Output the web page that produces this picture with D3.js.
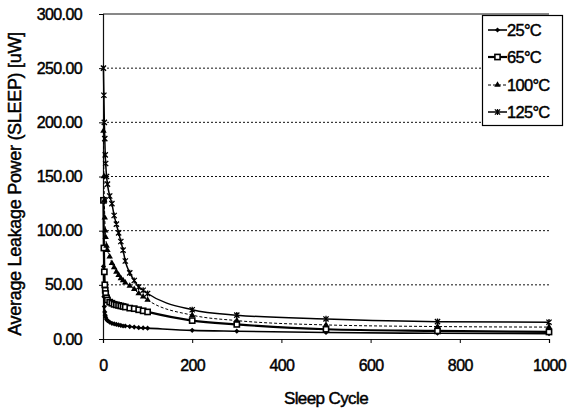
<!DOCTYPE html>
<html>
<head>
<meta charset="utf-8">
<script src="https://cdn.jsdelivr.net/npm/d3@7"></script>
<style>
  html, body { margin: 0; padding: 0; background: #fff; }
  svg { display: block; font-family: "Liberation Sans", Arial, sans-serif; }
  .heavy { stroke: #000; stroke-width: 0.45px; paint-order: stroke; }
</style>
</head>
<body>
<svg id="chart" width="567" height="410"></svg>
<script>
// ---- data ----
const cycles = [1, 2, 3, 4, 5, 6, 8, 10, 15, 20, 25, 30, 35, 40, 45, 50, 60, 70, 80, 90, 100, 200, 300, 500, 750, 1000];
const t25  = [67, 39, 30, 25, 22, 20, 18, 17, 15.5, 14.5, 14, 13.5, 13, 12.5, 12, 12, 11.5, 11, 10.5, 10.2, 10, 8, 7.2, 6, 5.3, 5];
const t65  = [128, 84, 62, 50, 45, 42, 38, 36, 34, 33, 32, 31.5, 31, 30.5, 30, 29.5, 28.5, 28, 27, 26, 25, 17, 13.5, 9, 7.5, 6.5];
const t100 = [192, 150, 128, 112, 100, 94, 86, 82, 76, 70, 66, 62, 59, 56, 54, 52, 49, 46, 42, 39, 36, 22, 17, 13, 11.5, 11];
const t125 = [250, 225, 200, 185, 170, 162, 150, 143, 132, 125, 114, 106, 98, 90, 82, 72, 61, 54, 48, 45, 42, 27, 22, 18.5, 16, 15.5];
const seriesNames = ["25°C", "65°C", "100°C", "125°C"];
const xTicks = [0, 200, 400, 600, 800, 1000];
const yTicks = [0, 50, 100, 150, 200, 250, 300];

const seriesData = [t25, t65, t100, t125];
const styles = [
  { width: 1.6, dash: null, marker: "diamond" },
  { width: 2.2, dash: null, marker: "square" },
  { width: 1.0, dash: "3,2", marker: "star" },
  { width: 1.5, dash: null, marker: "cross" }
];

const svg = d3.select("#chart");
const x = d3.scaleLinear().domain([0, 1000]).range([103, 549]);
const y = d3.scaleLinear().domain([0, 300]).range([339, 14]);

// gridlines
svg.append("g").selectAll("line").data(yTicks.filter(d => d > 0)).join("line")
  .attr("x1", x(0)).attr("x2", x(1000))
  .attr("y1", d => y(d)).attr("y2", d => y(d))
  .attr("stroke", "#111").attr("stroke-width", 1)
  .attr("stroke-dasharray", d => d === 300 ? null : "2,2");

// axes
const yAxis = d3.axisLeft(y).tickValues(yTicks).tickFormat(d3.format(".2f")).tickSize(4).tickPadding(17);
const gy = svg.append("g").attr("transform", `translate(${x(0)},0)`).call(yAxis);
gy.select(".domain").attr("stroke", "#111").attr("stroke-width", 1.2);
gy.selectAll("text").attr("font-size", 16).attr("fill", "#000").attr("letter-spacing", "-0.6px").attr("class", "heavy");

const xAxis = d3.axisBottom(x).tickValues(xTicks).tickFormat(d3.format("d")).tickSize(4).tickPadding(17);
const gx = svg.append("g").attr("transform", `translate(0,${y(0)})`).call(xAxis);
gx.select(".domain").attr("stroke", "#111").attr("stroke-width", 1.2);
gx.selectAll("text").attr("font-size", 16).attr("fill", "#000").attr("letter-spacing", "-0.6px").attr("class", "heavy");

// titles
svg.append("text").attr("class", "heavy").attr("x", 326).attr("y", 404).attr("text-anchor", "middle")
  .attr("font-size", 17).attr("letter-spacing", "-0.6px").text("Sleep Cycle");
svg.append("text").attr("class", "heavy").attr("transform", "translate(21,184) rotate(-90)").attr("text-anchor", "middle")
  .attr("font-size", 18).attr("letter-spacing", "-0.3px").text("Average Leakage Power (SLEEP) [uW]");

// marker drawing
function drawMarker(g, type, cx, cy) {
  const s = 2.6;
  if (type === "diamond") {
    g.append("path").attr("d", `M${cx},${cy - s}L${cx + s},${cy}L${cx},${cy + s}L${cx - s},${cy}Z`).attr("fill", "#000");
  } else if (type === "square") {
    g.append("rect").attr("x", cx - s).attr("y", cy - s).attr("width", 2 * s).attr("height", 2 * s)
      .attr("fill", "#fff").attr("stroke", "#000").attr("stroke-width", 1.6);
  } else if (type === "star") {
    g.append("path").attr("d", d3.symbol(d3.symbolTriangle, 18)()).attr("transform", `translate(${cx},${cy})`).attr("fill", "#000");
  } else {
    g.append("path").attr("d", `M${cx - s},${cy - s}L${cx + s},${cy + s}M${cx - s},${cy + s}L${cx + s},${cy - s}M${cx},${cy - s - 0.5}L${cx},${cy + s + 0.5}`)
      .attr("stroke", "#000").attr("stroke-width", 1.3).attr("fill", "none");
  }
}

const line = d3.line().x((d, i) => x(cycles[i])).y(d => y(d)).curve(d3.curveMonotoneX);
seriesData.forEach((vals, k) => {
  const st = styles[k];
  const g = svg.append("g");
  g.append("path").datum(vals).attr("d", line).attr("fill", "none")
    .attr("stroke", "#000").attr("stroke-width", st.width)
    .attr("stroke-dasharray", st.dash);
  vals.forEach((v, i) => drawMarker(g, st.marker, x(cycles[i]), y(v)));
});

// legend
const lg = svg.append("g");
lg.append("rect").attr("x", 482.5).attr("y", 15.5).attr("width", 80).attr("height", 110)
  .attr("fill", "#fff").attr("stroke", "#000").attr("stroke-width", 1.2);
const legendY = [30, 57, 85, 112];
seriesNames.forEach((name, k) => {
  const st = styles[k];
  const yy = legendY[k];
  lg.append("line").attr("x1", 488).attr("x2", 507).attr("y1", yy).attr("y2", yy)
    .attr("stroke", "#000").attr("stroke-width", st.width).attr("stroke-dasharray", st.dash);
  drawMarker(lg, st.marker, 497.5, yy);
  lg.append("text").attr("class", "heavy").attr("x", 507).attr("y", yy + 6).attr("font-size", 16.5)
    .attr("letter-spacing", "-0.7px").text(name);
});
</script>
</body>
</html>
